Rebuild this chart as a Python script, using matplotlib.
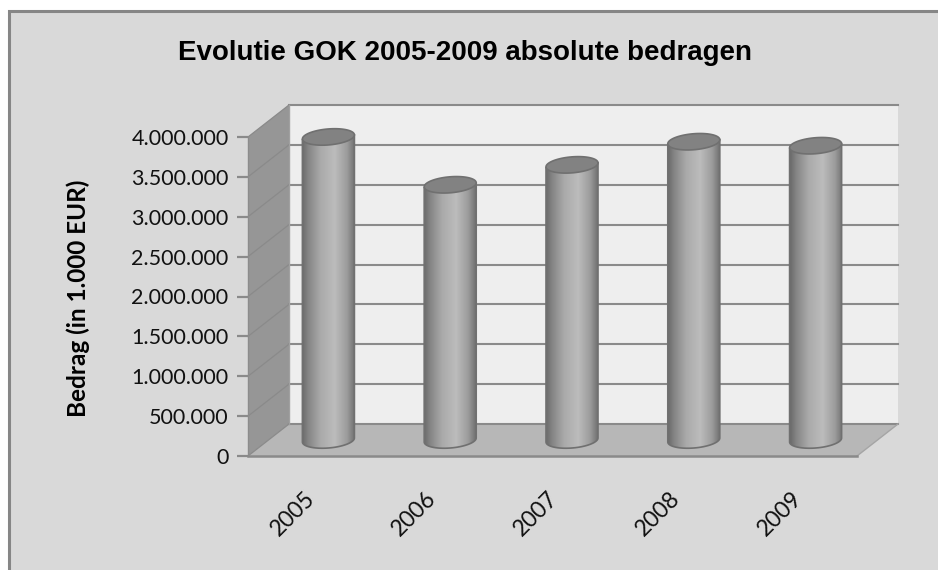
import matplotlib
matplotlib.use('Agg')
import matplotlib.pyplot as plt
import numpy as np
from matplotlib.patches import Polygon, PathPatch, Rectangle
from matplotlib.path import Path
from matplotlib.colors import LinearSegmentedColormap
from matplotlib.transforms import ScaledTranslation

years = ['2005', '2006', '2007', '2008', '2009']
values = [3800000, 3200000, 3450000, 3740000, 3690000]
yticks = [0, 500000, 1000000, 1500000, 2000000, 2500000, 3000000, 3500000, 4000000]
ylabels = ['0', '500.000', '1.000.000', '1.500.000', '2.000.000',
           '2.500.000', '3.000.000', '3.500.000', '4.000.000']

W, H = 938, 570
fig = plt.figure(figsize=(W / 100, H / 100), dpi=100, facecolor='white')

# chart frame, runs off the right and bottom of the image
fig.patches.append(Rectangle((9.3 / W, 1 - 600 / H), 960 / W, 589 / H, transform=fig.transFigure,
                             facecolor='#d9d9d9', edgecolor='#868686', lw=2.2, zorder=-1))

# front plane of the 3d box
left, right, bottom, top = 248, 857, 456, 137
ax = fig.add_axes([left / W, 1 - bottom / H, (right - left) / W, (bottom - top) / H])
ax.set_xlim(0, 5)
ax.set_ylim(0, 4000000)
ax.patch.set_visible(False)
for s in ax.spines.values():
    s.set_visible(False)

# depth of the box in data units
px_x = 5 / (right - left)
px_y = 4000000 / (bottom - top)
dx = 41 * px_x
dy = 32 * px_y
ymax = 4000000

# walls
ax.add_patch(Polygon([(dx, dy), (5 + dx, dy), (5 + dx, ymax + dy), (dx, ymax + dy)],
                     facecolor='#eeeeee', edgecolor='none', clip_on=False, zorder=1))
ax.add_patch(Polygon([(0, 0), (dx, dy), (dx, ymax + dy), (0, ymax)],
                     facecolor='#969696', edgecolor='none', clip_on=False, zorder=1))
ax.add_patch(Polygon([(0, 0), (5, 0), (5 + dx, dy), (dx, dy)],
                     facecolor='#b7b7b7', edgecolor='none', clip_on=False, zorder=1))

# gridlines
for t in yticks:
    ax.plot([dx, 5 + dx], [t + dy, t + dy], color='#8a8a8a', lw=1.5, clip_on=False, zorder=2)
    ax.plot([0, dx], [t, t + dy], color='#8a8a8a', lw=0.9, clip_on=False, zorder=2)
ax.plot([0, 0], [0, ymax], color='#8c8c8c', lw=1, clip_on=False, zorder=2)
ax.plot([dx, dx], [dy, ymax + dy], color='#a0a0a0', lw=1, clip_on=False, zorder=2)
ax.plot([0, 5], [0, 0], color='#8a8a8a', lw=1.8, clip_on=False, zorder=3)
ax.plot([5, 5 + dx], [0, dy], color='#a5a5a5', lw=1, clip_on=False, zorder=2)

# cylinders
cyl = LinearSegmentedColormap.from_list('cyl', [(0, '#6a6a6a'), (0.12, '#858585'), (0.35, '#aaaaaa'),
                                                (0.62, '#bcbcbc'), (0.85, '#9c9c9c'), (1, '#707070')])
grad = np.linspace(0, 1, 256).reshape(1, -1)
bw = 52 * px_x
eh = 16 * px_y
tilt_r = 2.0 * px_y
for i, v in enumerate(values):
    cx = i + 0.5 + dx / 2 - 1 * px_x
    y0 = dy / 2
    y1 = v + dy / 2
    x0, x1 = cx - bw / 2, cx + bw / 2
    # body outline: straight sides, curved bottom
    t = np.linspace(np.pi, 2 * np.pi, 40)
    bx = cx + bw / 2 * np.cos(t)
    by = y0 + eh / 2 * np.sin(t) + tilt_r * np.cos(t)
    verts = [(x0, y1 - tilt_r)] + list(zip(bx, by)) + [(x1, y1 + tilt_r), (x0, y1 - tilt_r)]
    body = PathPatch(Path(verts), facecolor='none', edgecolor='#707070', lw=1.2,
                     clip_on=False, zorder=5)
    im = ax.imshow(grad, cmap=cyl, extent=[x0, x1, y0 - eh, y1 + tilt_r], aspect='auto', zorder=4)
    ax.add_patch(body)
    im.set_clip_path(body)
    # top of the cylinder
    th = np.linspace(0, 2 * np.pi, 80)
    ex = cx + bw / 2 * np.cos(th)
    ey = y1 + eh / 2 * np.sin(th) + tilt_r * np.cos(th)
    ax.add_patch(Polygon(np.column_stack([ex, ey]), facecolor='#828282', edgecolor='#707070',
                         lw=1.2, clip_on=False, zorder=6))

ax.set_xlim(0, 5)
ax.set_ylim(0, 4000000)

ax.set_yticks(yticks)
ax.set_yticklabels(ylabels, fontsize=15.5, family='Lato', color='#111111')
ax.set_xticks([i + 0.5 for i in range(5)])
ax.set_xticklabels(years, fontsize=16.5, family='Lato', rotation=45, ha='right',
                   rotation_mode='anchor', color='#111111')
ax.tick_params(axis='y', length=8, width=1.6, color='#8a8a8a', pad=6)
ax.tick_params(axis='x', length=0, pad=23)
shift = ScaledTranslation(-5 / 100, 0, fig.dpi_scale_trans)
for lab in ax.get_xticklabels():
    lab.set_transform(lab.get_transform() + shift)

fig.text(465 / W, 1 - 53 / H, 'Evolutie GOK 2005-2009 absolute bedragen', fontsize=20,
         family='Liberation Sans', weight='bold', ha='center', va='center', color='black')
fig.text(78 / W, 1 - 298 / H, 'Bedrag (in 1.000 EUR)', fontsize=17.5, family='Lato', weight='bold',
         rotation=90, ha='center', va='center', color='black')

fig.savefig('out.png', dpi=100, facecolor='white')
